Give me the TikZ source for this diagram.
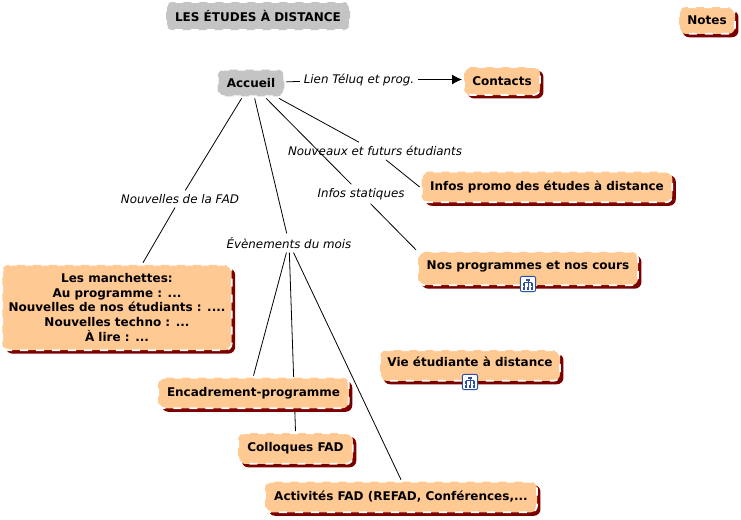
\documentclass[tikz,border=0pt]{standalone}
\usepackage{fontspec}
\setmainfont{DejaVu Sans}
\usetikzlibrary{arrows.meta, shadows, backgrounds}

\begin{document}
\begin{tikzpicture}[
  x=0.75pt, y=-0.75pt,
  lien/.style={draw=black, line width=0.6pt},
  fleche/.style={lien, -{Latex[length=7.5pt, width=7.5pt]}},
  etiq/.style={font=\fontsize{8.9pt}{10pt}\selectfont\itshape, inner sep=1.5pt, outer sep=1.5pt},
  base/.style={rectangle, rounded corners=5pt, draw=white, line width=1.3pt, dash pattern=on 6pt off 6pt,
    align=center, inner sep=0pt, outer sep=1.5pt, font=\fontsize{9pt}{11pt}\selectfont\bfseries},
  gris/.style={base, fill=gristitre},
  concept/.style={base, fill=peche, drop shadow={shadow xshift=2.6pt, shadow yshift=-2.6pt, fill=bordeaux, opacity=1}},
  avecicone/.style={concept, text depth=5pt},
  icone/.style={rectangle, rounded corners=1.5pt, draw=bleuicone, fill=white, line width=0.7pt, minimum size=11.5pt, inner sep=0pt},
  pt/.style={fill=bleuicone, inner sep=0pt, minimum size=2.1pt},
]
\definecolor{gristitre}{HTML}{C4C4C4}
\definecolor{peche}{HTML}{FFC993}
\definecolor{bordeaux}{HTML}{7A0000}
\definecolor{bleuicone}{HTML}{2B4FA8}

\useasboundingbox (0,0) rectangle (741,519);

% Titre et notes
\node[gris, minimum width=138pt, minimum height=21pt] (titre) at (258,16) {LES ÉTUDES À DISTANCE};
\node[concept, minimum width=42pt, minimum height=20pt] (notes) at (707,20.5) {Notes};

% Concepts
\node[gris, minimum width=50pt, minimum height=20pt] (accueil) at (251,83) {Accueil};
\node[concept, minimum width=57pt, minimum height=21pt] (contacts) at (502,81) {Contacts};
\node[concept, minimum width=188pt, minimum height=23pt] (promo) at (547,187) {Infos promo des études à distance};
\node[avecicone, minimum width=165pt, minimum height=25pt] (programmes) at (528,268.5) {Nos programmes et nos cours};
\node[avecicone, minimum width=135pt, minimum height=23pt] (vie) at (470,365.5) {Vie étudiante à distance};
\node[concept, minimum width=172pt, minimum height=64pt] (manchettes) at (117,307.5) {Les manchettes:\\Au programme : ...\\Nouvelles de nos étudiants : ....\\Nouvelles techno : ...\\À lire : ...};
\node[concept, minimum width=143pt, minimum height=23pt] (encadrement) at (253.5,393) {Encadrement-programme};
\node[concept, minimum width=86pt, minimum height=23pt] (colloques) at (295.5,448.5) {Colloques FAD};
\node[concept, minimum width=204pt, minimum height=23pt] (activites) at (401,497) {Activités FAD (REFAD, Conférences,...};

% Etiquettes des liens
\node[etiq] (lteluq) at (359,79.5) {Lien Téluq et prog.};
\node[etiq] (lnouveaux) at (375,151) {Nouveaux et futurs étudiants};
\node[etiq] (lstatiques) at (361,194) {Infos statiques};
\node[etiq] (lfad) at (180,199) {Nouvelles de la FAD};
\node[etiq] (lmois) at (289,243) {Évènements du mois};

% Liens, sous les concepts
\begin{scope}[on background layer]
\draw[lien] (accueil) -- (lteluq);
\draw[lien] (accueil) -- (lnouveaux);
\draw[lien] (lnouveaux) -- (promo.west);
\draw[lien] (accueil) -- (lstatiques);
\draw[lien] (lstatiques) -- (programmes.north west);
\draw[lien] (accueil) -- (lfad);
\draw[lien] (lfad) -- (manchettes);
\draw[lien] (accueil) -- (lmois);
\draw[lien] (lmois) -- (encadrement.north);
\draw[lien] (lmois) -- (colloques.north);
\draw[lien] (lmois) -- (activites.north);
\end{scope}
\draw[fleche] (lteluq) -- (lteluq -| contacts.west);

% Icones de sous-carte
\foreach \nom/\cx/\cy in {iconeprog/528/284, iconevie/470/382} {
  \node[icone] (\nom) at (\cx,\cy) {};
  \node[pt, minimum width=3.4pt] at (\cx,\cy-4) {};
  \node[pt] at (\cx-4,\cy+0.5) {};
  \node[pt] at (\cx+4,\cy+0.5) {};
  \node[pt] at (\cx-4,\cy+4.5) {};
  \node[pt] at (\cx,\cy+4.5) {};
  \node[pt] at (\cx+4,\cy+4.5) {};
  \draw[bleuicone, line width=0.4pt] (\cx,\cy-4) -- (\cx,\cy+4.5) (\cx-4,\cy-1.5) -- (\cx+4,\cy-1.5) (\cx-4,\cy-1.5) -- (\cx-4,\cy+4.5) (\cx+4,\cy-1.5) -- (\cx+4,\cy+4.5);
}

\end{tikzpicture}
\end{document}
